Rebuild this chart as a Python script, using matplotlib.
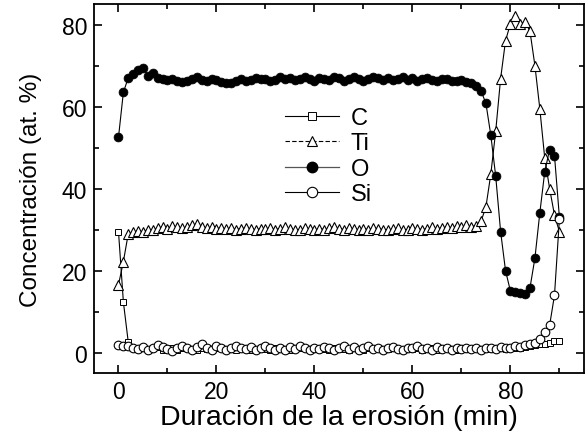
import numpy as np
import matplotlib
matplotlib.use("Agg")
import matplotlib.pyplot as plt
from matplotlib.lines import Line2D
from matplotlib.ticker import MultipleLocator

plt.rcParams['font.family'] = ['Liberation Sans', 'DejaVu Sans']

# sampling times (min)
time_min = list(range(0, 91))

conc_C = [29.5, 12.3, 2.5, 1.0, 0.8, 1.2, 0.6, 1.0, 1.3, 0.7,
          0.9, 1.1, 0.6, 1.0, 1.2, 0.8, 0.7, 1.1, 0.9, 0.6,
          1.0, 1.2, 0.8, 0.9, 0.7, 1.1, 1.0, 0.6, 0.8, 1.2,
          0.9, 0.7, 1.0, 1.1, 0.8, 0.6, 0.9, 1.2, 1.0, 0.7,
          0.8, 1.1, 0.9, 0.6, 1.0, 1.2, 0.8, 0.7, 1.0, 0.9,
          0.6, 1.1, 0.8, 1.0, 0.7, 0.9, 1.2, 0.8, 0.6, 1.0,
          0.9, 1.1, 0.7, 0.8, 1.0, 0.6, 0.9, 1.1, 0.8, 0.7,
          1.0, 0.9, 0.8, 1.1, 0.9, 1.0, 0.8, 1.0, 1.1, 0.9,
          1.0, 1.1, 1.2, 1.4, 1.6, 1.9, 2.0, 2.2, 2.4, 2.7,
          2.9]

conc_Ti = [16.5, 22.2, 29.0, 29.3, 29.6, 29.4, 30.0, 29.8, 30.4, 30.6,
           30.2, 30.8, 30.5, 30.3, 30.6, 31.0, 31.4, 30.6, 30.3, 30.5,
           30.2, 30.4, 30.1, 30.3, 30.0, 30.2, 30.4, 30.1, 29.9, 30.2,
           30.1, 30.3, 30.0, 30.2, 30.5, 30.1, 29.8, 30.0, 30.3, 30.1,
           29.9, 30.2, 30.0, 30.4, 30.6, 30.2, 30.0, 30.3, 30.1, 29.9,
           30.2, 30.0, 30.4, 30.2, 30.0, 29.8, 30.1, 30.3, 30.0, 29.9,
           30.3, 30.1, 30.0, 30.2, 30.5, 30.2, 30.4, 30.6, 30.3, 30.8,
           30.5, 31.0, 30.7, 30.9, 32.0, 35.5, 43.5, 54.0, 66.8, 76.0,
           80.2, 82.0, 80.2, 80.7, 78.3, 70.0, 59.5, 47.5, 40.0, 33.5,
           29.5]

conc_O = [52.5, 63.5, 67.0, 68.0, 69.0, 69.5, 67.5, 68.2, 67.0, 66.8,
          66.5, 66.8, 66.3, 66.0, 66.2, 66.8, 67.2, 66.5, 66.2, 66.8,
          66.5, 66.0, 65.8, 65.7, 66.3, 66.8, 66.2, 66.5, 67.0, 66.6,
          66.8, 66.2, 66.5, 67.2, 66.8, 67.0, 66.5, 66.8, 67.2, 66.6,
          66.3, 67.0, 66.8, 66.4, 67.1, 66.9, 66.3, 66.6, 67.2, 66.7,
          66.2, 66.8, 67.3, 66.9, 66.5, 67.0, 66.4, 66.8, 67.1, 66.5,
          66.9, 66.3, 66.7, 67.0, 66.4, 66.2, 66.6, 66.8, 66.3, 66.2,
          66.4, 66.0, 65.8, 65.0, 63.8, 60.8, 53.0, 43.0, 29.5, 20.0,
          15.0, 14.7, 14.5, 14.2, 15.8, 23.0, 34.0, 44.0, 49.5, 48.0,
          33.0]

conc_Si = [1.8, 1.7, 1.6, 1.2, 0.8, 1.4, 0.5, 1.0, 1.8, 1.3,
           0.9, 0.4, 1.1, 1.6, 1.0, 0.6, 1.3, 2.0, 1.2, 0.7,
           1.5, 1.0, 0.5, 1.2, 1.7, 1.1, 0.8, 1.4, 0.6, 1.0,
           1.6, 1.2, 0.7, 1.1, 0.5, 1.3, 0.9, 1.5, 1.0, 0.6,
           1.2, 0.8, 1.4, 1.0, 0.5, 1.1, 1.6, 0.9, 1.3, 0.7,
           1.0, 1.5, 0.8, 1.2, 0.6, 1.1, 1.4, 0.9, 0.5, 1.2,
           1.0, 1.6, 0.8, 1.1, 0.6, 1.3, 0.9, 1.2, 0.7, 1.0,
           0.8, 1.2, 0.9, 1.1, 0.7, 1.0, 1.2, 0.9, 1.3, 1.0,
           1.2, 1.5, 1.3, 1.8, 2.0, 2.4, 3.2, 5.0, 6.6, 14.0,
           32.5]

series_labels = ['C', 'Ti', 'O', 'Si']

fig = plt.figure(figsize=(5.86, 4.39), dpi=100)
ax = fig.add_axes([0.1604, 0.148, 0.836, 0.8406])

lw = 0.8
ax.plot(time_min, conc_C, color='black', lw=lw, marker='s', ms=4.0,
        mfc='white', mec='black', mew=0.7)
ax.plot(time_min, conc_Ti, color='black', lw=lw, marker='^', ms=6.6,
        mfc='white', mec='black', mew=0.8)
ax.plot(time_min, conc_O, color='black', lw=lw, marker='o', ms=6.4,
        mfc='black', mec='black', mew=0.5)
ax.plot(time_min, conc_Si, color='black', lw=lw, marker='o', ms=6.2,
        mfc='white', mec='black', mew=0.8)

handles = [
    Line2D([], [], color='black', lw=0.8, marker='s', ms=5.5, mfc='white', mec='black', mew=0.7),
    Line2D([], [], color='black', lw=0.8, ls=(0, (4, 2)), marker='^', ms=7.5, mfc='white', mec='black', mew=0.8),
    Line2D([], [], color='#555555', lw=0.9, marker='o', ms=7.5, mfc='black', mec='black'),
    Line2D([], [], color='black', lw=0.8, marker='o', ms=7.5, mfc='white', mec='black', mew=0.8),
]
ax.legend(handles, series_labels, loc='upper left', bbox_to_anchor=(0.37, 0.747),
          frameon=False, fontsize=17, handlelength=2.3, handletextpad=0.5,
          labelspacing=0.15, numpoints=1, borderaxespad=0)

ax.set_xlim(-5, 95)
ax.set_ylim(-5, 85)
ax.xaxis.set_major_locator(MultipleLocator(20))
ax.xaxis.set_minor_locator(MultipleLocator(10))
ax.yaxis.set_major_locator(MultipleLocator(20))
ax.yaxis.set_minor_locator(MultipleLocator(10))
ax.tick_params(which='both', direction='in', top=True, right=True, width=1.2)
ax.tick_params(which='major', length=5.5, labelsize=16.5, pad=5)
ax.tick_params(which='minor', length=3.5)
for sp in ax.spines.values():
    sp.set_linewidth(1.3)

ax.set_xlabel('Duración de la erosión (min)', fontsize=20.5, labelpad=1)
ax.set_ylabel('Concentración (at. %)', fontsize=17.5, labelpad=14)

fig.savefig('out.png', dpi=100)
